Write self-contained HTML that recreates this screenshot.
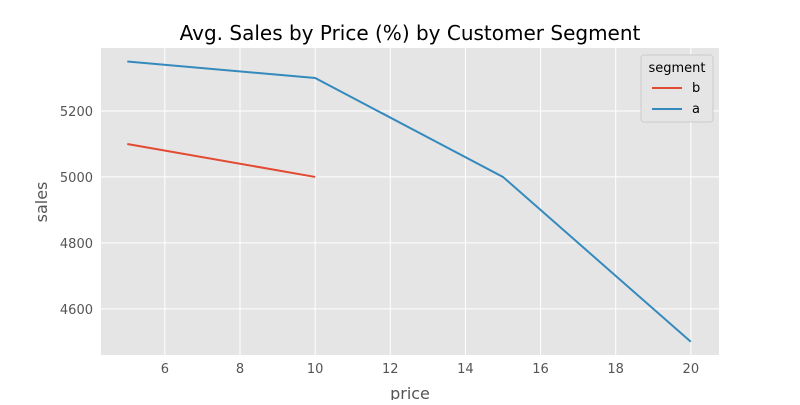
<!DOCTYPE html>
<html><head><meta charset="utf-8"><style>
body{margin:0;background:#fff;font-family:"Liberation Sans","DejaVu Sans",sans-serif}
svg text{font-family:"DejaVu Sans","Liberation Sans",sans-serif}
</style></head><body>
<svg id="chart" width="800" height="400" xmlns="http://www.w3.org/2000/svg">
<rect x="0" y="0" width="800" height="400" fill="#fff"/>
<text x="410" y="40" font-size="20" text-anchor="middle" fill="#000">Avg. Sales by Price (%) by Customer Segment</text>
<rect x="101" y="48" width="618" height="307" fill="#e5e5e5"/>
<g id="grid"></g><g id="ticks"></g><g id="series"></g>
<text x="410" y="399" font-size="16" text-anchor="middle" fill="#555">price</text>
<text x="47" y="202" font-size="16" text-anchor="middle" fill="#555" transform="rotate(-90 47 202)">sales</text>
<g>
<rect x="641" y="55" width="72" height="67" rx="3" fill="#e5e5e5" stroke="#ccc" stroke-width="1"/>
<text x="677" y="72" font-size="13" text-anchor="middle" fill="#000">segment</text>
<line x1="652" y1="88" x2="682" y2="88" stroke="#E24A33" stroke-width="2"/>
<text x="692" y="92" font-size="13" fill="#000">b</text>
<line x1="652" y1="109" x2="682" y2="109" stroke="#348ABD" stroke-width="2"/>
<text x="692" y="113" font-size="13" fill="#000">a</text>
</g>
</svg>
<script>
const xTicks=[6,8,10,12,14,16,18,20];
const yTicks=[4600,4800,5000,5200];
const priceA=[5,10,15,20];
const salesA=[5350,5300,5000,4500];
const priceB=[5,10];
const salesB=[5100,5000];
const NS="http://www.w3.org/2000/svg";
const L=101,R=719,T=48,B=355,xmin=4.3,xmax=20.75,ymin=4460,ymax=5391;
function X(v){return L+(v-xmin)/(xmax-xmin)*(R-L);}
function Y(v){return B-(v-ymin)/(ymax-ymin)*(B-T);}
function mk(t,a,p){const e=document.createElementNS(NS,t);for(const k in a)e.setAttribute(k,a[k]);p.appendChild(e);return e;}
const g=document.getElementById('grid'),tk=document.getElementById('ticks'),s=document.getElementById('series');
xTicks.forEach(v=>{const x=X(v);
const l=mk('line',{x1:x,x2:x,y1:T,y2:B,stroke:'#fff','stroke-width':1},g);


const t=mk('text',{x:x,y:B+18,'font-size':13,'text-anchor':'middle',fill:'#555'},tk);t.textContent=v;

});
yTicks.forEach(v=>{const y=Y(v);
const l=mk('line',{x1:L,x2:R,y1:y,y2:y,stroke:'#fff','stroke-width':1},g);


const t=mk('text',{x:L-8,y:y+5,'font-size':13,'text-anchor':'end',fill:'#555'},tk);t.textContent=v;

});
function line(xs,ys,c,n){const p=mk('polyline',{points:xs.map((x,i)=>X(x)+','+Y(ys[i])).join(' '),fill:'none',stroke:c,'stroke-width':2},s);

}
line(priceB,salesB,'#E24A33','line-segment-b');
line(priceA,salesA,'#348ABD','line-segment-a');
</script>
</body></html>
